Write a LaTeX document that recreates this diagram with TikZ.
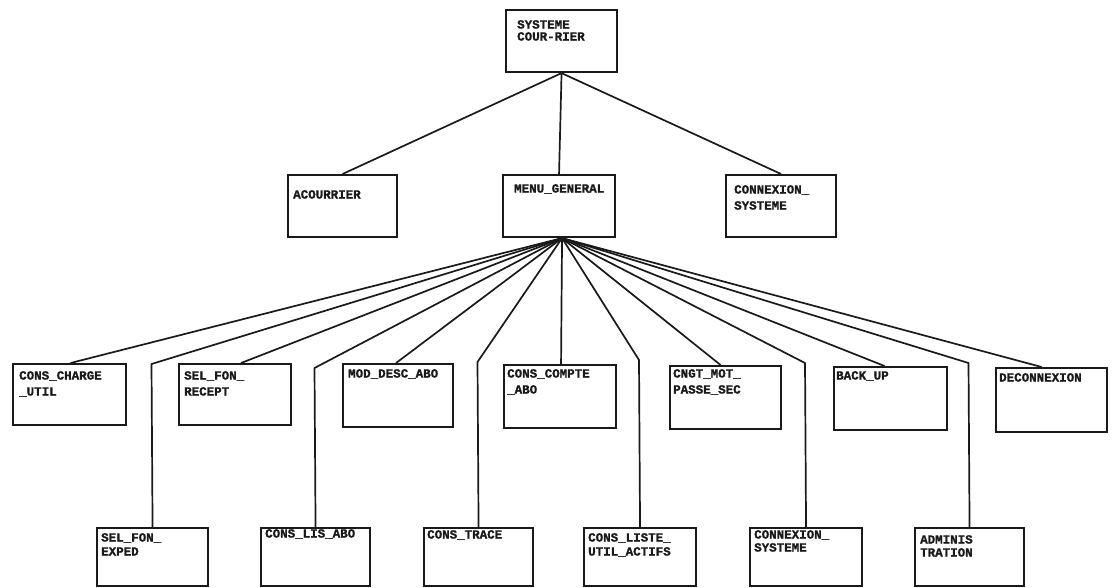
\documentclass[tikz,border=0pt]{standalone}
\usepackage{fontspec}
\newfontfamily\boxfont{Liberation Mono}[BoldFeatures={FakeBold=1.3}]
\usetikzlibrary{calc}
\definecolor{ink}{HTML}{1A1A1A}
\tikzset{
  box/.style={draw=ink, line width=2.1pt, inner sep=0pt, anchor=north west},
  lbl/.style={font=\boxfont\bfseries\fontsize{12.5}{16}\selectfont, text=ink, align=left, inner sep=0pt, anchor=north west},
  conn/.style={draw=ink, line width=1.7pt, line join=round}
}
\begin{document}
\begin{tikzpicture}[x=1pt,y=-1pt]
\fill[white] (0,0) rectangle (1113,587);
\useasboundingbox (0,0) rectangle (1113,587);
% level 0
\node[box, minimum width=111, minimum height=62] (top) at (505,9) {};
% level 1
\node[box, minimum width=109, minimum height=62] (acour) at (287,174) {};
\node[box, minimum width=112, minimum height=62] (menu) at (502,174) {};
\node[box, minimum width=110, minimum height=62] (cnx1) at (725,174) {};
% level 2
\node[box, minimum width=113, minimum height=61] (cchar) at (12,363) {};
\node[box, minimum width=112, minimum height=61] (recept) at (178,363) {};
\node[box, minimum width=110, minimum height=63] (moddesc) at (342,363) {};
\node[box, minimum width=112, minimum height=63] (compte) at (503,364) {};
\node[box, minimum width=111, minimum height=63] (cngt) at (669,365) {};
\node[box, minimum width=113, minimum height=63] (backup) at (833,366) {};
\node[box, minimum width=111, minimum height=64] (decon) at (995,367) {};
% level 3
\node[box, minimum width=111, minimum height=58] (exped) at (96,527) {};
\node[box, minimum width=109, minimum height=58] (lisabo) at (260,527) {};
\node[box, minimum width=109, minimum height=58] (trace) at (423,527) {};
\node[box, minimum width=112, minimum height=58] (liste) at (583,527) {};
\node[box, minimum width=112, minimum height=58] (cnx2) at (749,527) {};
\node[box, minimum width=109, minimum height=58] (adminis) at (914,527) {};
% labels
\node[lbl, font=\boxfont\bfseries\fontsize{12.5}{12}\selectfont] (ttop) at ($(top.north west)+(12,11)$) {SYSTEME\\COUR-RIER};
\node[lbl] (tacour) at ($(acour.north west)+(6,16)$) {ACOURRIER};
\node[lbl] (tmenu) at ($(menu.north west)+(12,10)$) {MENU\_GENERAL};
\node[lbl] (tcnx1) at ($(cnx1.north west)+(9,11)$) {CONNEXION\_\\SYSTEME};
\node[lbl] (tcchar) at ($(cchar.north west)+(7,8)$) {CONS\_CHARGE\\\_UTIL};
\node[lbl] (trecept) at ($(recept.north west)+(6,8)$) {SEL\_FON\_\\RECEPT};
\node[lbl] (tmoddesc) at ($(moddesc.north west)+(6,6)$) {MOD\_DESC\_ABO};
\node[lbl] (tcompte) at ($(compte.north west)+(4,5)$) {CONS\_COMPTE\\\_ABO};
\node[lbl] (tcngt) at ($(cngt.north west)+(4,4)$) {CNGT\_MOT\_\\PASSE\_SEC};
\node[lbl] (tbackup) at ($(backup.north west)+(3,5)$) {BACK\_UP};
\node[lbl] (tdecon) at ($(decon.north west)+(4,6)$) {DECONNEXION};
\node[lbl, font=\boxfont\bfseries\fontsize{12.5}{14}\selectfont] (texped) at ($(exped.north west)+(5,6)$) {SEL\_FON\_\\EXPED};
\node[lbl] (tlisabo) at ($(lisabo.north west)+(5,2)$) {CONS\_LIS\_ABO};
\node[lbl] (ttrace) at ($(trace.north west)+(4,3)$) {CONS\_TRACE};
\node[lbl, font=\boxfont\bfseries\fontsize{12.5}{14}\selectfont] (tliste) at ($(liste.north west)+(5,6)$) {CONS\_LISTE\_\\UTIL\_ACTIFS};
\node[lbl, font=\boxfont\bfseries\fontsize{12.5}{13}\selectfont] (tcnx2) at ($(cnx2.north west)+(5,3)$) {CONNEXION\_\\SYSTEME};
\node[lbl, font=\boxfont\bfseries\fontsize{12.5}{13}\selectfont] (tadminis) at ($(adminis.north west)+(6,8)$) {ADMINIS\\TRATION};
% bend coordinates
\coordinate (bexped) at (151.5,364);
\coordinate (blisabo) at (314.5,368);
\coordinate (btrace) at (477.5,362);
\coordinate (bliste) at (639,360);
\coordinate (bcnx2) at (805,363);
\coordinate (badminis) at (968.5,363);
\coordinate (fan) at ($(menu.south)+(3,0)$);
% connectors level 0-1
\draw[conn] (top.south) -- (acour.north);
\draw[conn] (top.south) -- (menu.north);
\draw[conn] (top.south) -- (cnx1.north);
% fan
\draw[conn] (fan) -- ([xshift=1pt]cchar.north);
\draw[conn] (fan) -- ([xshift=6pt]recept.north);
\draw[conn] (fan) -- ([xshift=-2pt]moddesc.north);
\draw[conn] (fan) -- ([xshift=1pt]compte.north);
\draw[conn] (fan) -- ([xshift=-5pt]cngt.north);
\draw[conn] (fan) -- ([xshift=-6pt]backup.north);
\draw[conn] (fan) -- ([xshift=-10pt]decon.north);
\draw[conn] (fan) -- (bexped) -- (exped.north);
\draw[conn] (fan) -- (blisabo) -- (lisabo.north);
\draw[conn] (fan) -- (btrace) -- (trace.north);
\draw[conn] (fan) -- (bliste) -- (liste.north);
\draw[conn] (fan) -- (bcnx2) -- (cnx2.north);
\draw[conn] (fan) -- (badminis) -- (adminis.north);
\end{tikzpicture}
\end{document}
